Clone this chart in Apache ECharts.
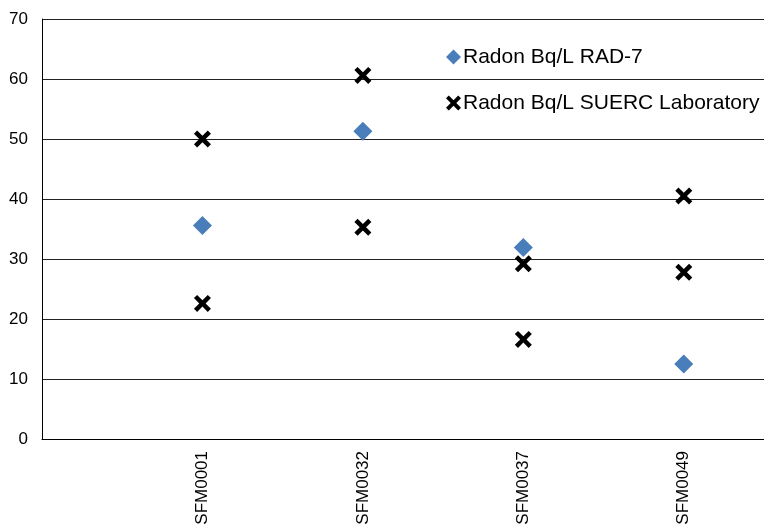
<!DOCTYPE html>
<html><head><meta charset="utf-8">
<script src="https://cdn.jsdelivr.net/npm/echarts@6/dist/echarts.min.js"></script>
<style>html,body{margin:0;padding:0;background:#fff}#c{width:764px;height:531px}</style>
</head><body><div id="c"></div>
<script>
var categories = ['SFM0001', 'SFM0032', 'SFM0037', 'SFM0049'];
var rad7 = [35.6, 51.3, 31.9, 12.5];
var suercA = [50.0, 60.6, 29.2, 40.5];
var suercB = [22.6, 35.3, 16.6, 27.8];
var yTicks = [0, 10, 20, 30, 40, 50, 60, 70];
var seriesNames = ['Radon Bq/L RAD-7', 'Radon Bq/L SUERC Laboratory'];

var xPath = 'path://M3,0 L8,5 L13,0 L16,3 L11,8 L16,13 L13,16 L8,11 L3,16 L0,13 L5,8 L0,3 Z';
function pts(arr){ return arr.map(function(v,i){ return [i+1, v]; }); }
var suercPts = pts(suercA).concat(pts(suercB));

var chart = echarts.init(document.getElementById('c'));
chart.setOption({
  animation: false,
  textStyle: {fontFamily: 'Liberation Sans, Arial, sans-serif'},
  grid: {left: 42, right: 0, top: 19, bottom: 92, containLabel: false},
  legend: {
    orient: 'vertical', left: 441, top: 41, itemGap: 24, itemWidth: 15, itemHeight: 15,
    textStyle: {fontSize: 21, lineHeight: 22, color: '#000', fontFamily: 'Liberation Sans, Arial, sans-serif', padding: [0,0,0,-3]},
    data: [{name: seriesNames[0], icon: 'diamond'}, {name: seriesNames[1], icon: xPath}]
  },
  xAxis: {
    type: 'value', min: 0, max: 4.5, interval: 1,
    axisLine: {show: true, lineStyle: {color: '#000', width: 1}},
    axisTick: {show: false}, splitLine: {show: false},
    axisLabel: {
      rotate: 90, margin: 12, fontSize: 17, color: '#000',
      formatter: function(v){ var i = Math.round(v) - 1; return (v === Math.round(v) && i >= 0 && i < categories.length) ? categories[i] : ''; }
    }
  },
  yAxis: {
    type: 'value', min: 0, max: 70, interval: 10,
    axisLine: {show: true, lineStyle: {color: '#000', width: 1}},
    axisTick: {show: false},
    splitLine: {lineStyle: {color: '#222', width: 1}},
    axisLabel: {fontSize: 17, color: '#000', margin: 14}
  },
  series: [
    {name: seriesNames[0], type: 'scatter', symbol: 'diamond', symbolSize: 19,
     itemStyle: {color: '#4a7ebb', opacity: 1}, data: pts(rad7), z: 3},
    {name: seriesNames[1], type: 'scatter', symbol: xPath, symbolSize: 17,
     itemStyle: {color: '#000', opacity: 1}, data: suercPts, z: 4}
  ]
});
</script></body></html>
